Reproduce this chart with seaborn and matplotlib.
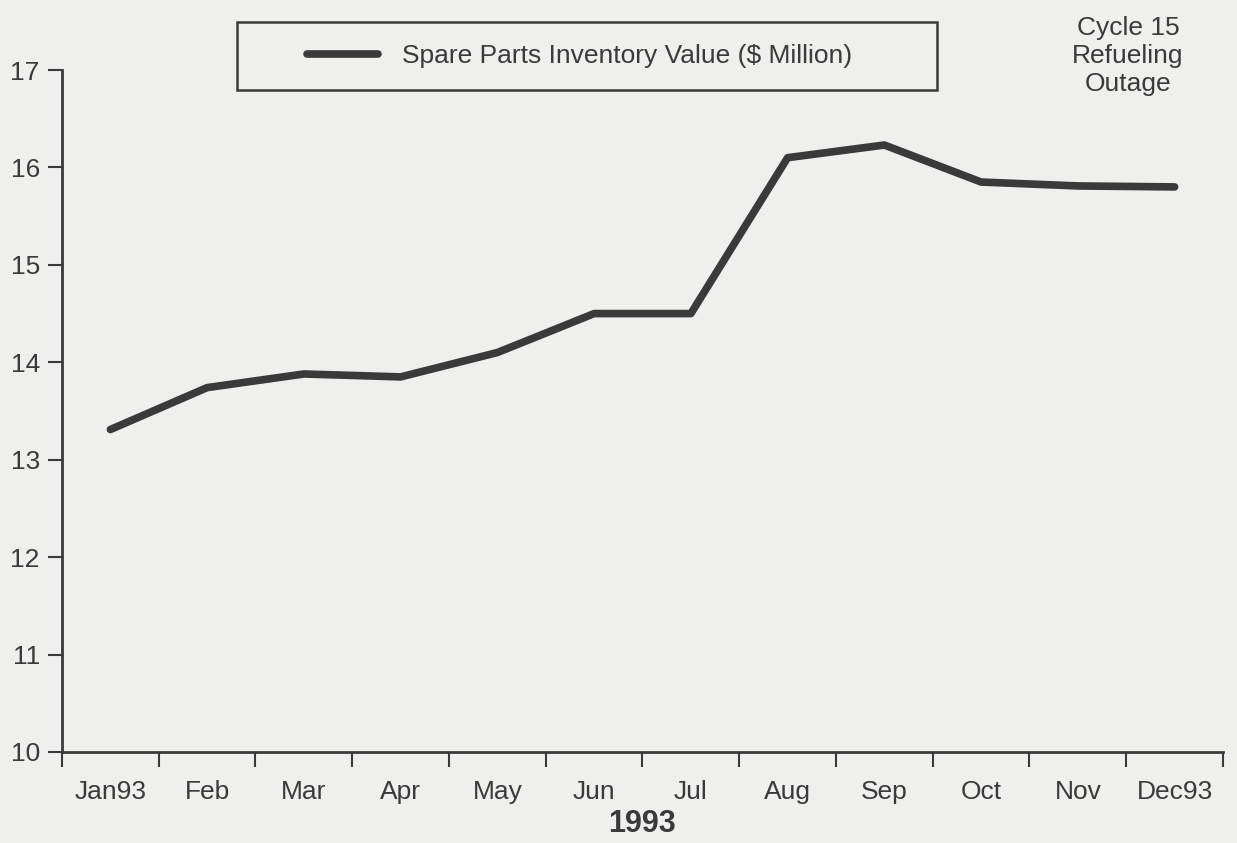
import numpy as np
import pandas as pd
import seaborn as sns
import matplotlib.pyplot as plt
from matplotlib.patches import Rectangle

months = ['Jan93', 'Feb', 'Mar', 'Apr', 'May', 'Jun',
          'Jul', 'Aug', 'Sep', 'Oct', 'Nov', 'Dec93']
inventory = [13.31, 13.74, 13.88, 13.85, 14.10, 14.50,
             14.50, 16.10, 16.23, 15.85, 15.81, 15.80]
yticks = [10, 11, 12, 13, 14, 15, 16, 17]

df = pd.DataFrame({'pos': np.arange(len(months)), 'value': inventory})

sns.set_style('ticks')
plt.rcParams['font.family'] = ['Liberation Sans', 'DejaVu Sans']
bg = '#efefed'
ink = '#3a3a3a'

fig = plt.figure(figsize=(12.37, 8.43), dpi=100, facecolor=bg)
ax = fig.add_axes([62 / 1237, 1 - 752 / 843, (1223 - 62) / 1237, (752 - 70) / 843])
ax.set_facecolor(bg)

sns.lineplot(data=df, x='pos', y='value', ax=ax, color=ink, linewidth=5.5,
             label='Spare Parts Inventory Value ($ Million)', legend=False)

ax.set_xlim(-0.5, len(months) - 0.5)
ax.set_ylim(10, 17)

# ticks at month boundaries, labels at month centres
ax.set_xticks(np.arange(len(months) + 1) - 0.5)
ax.set_xticklabels([])
ax.set_xticks(np.arange(len(months)), minor=True)
ax.set_xticklabels(months, minor=True, fontsize=19, color=ink)
ax.tick_params(axis='x', which='major', length=11, width=1.5, color=ink)
ax.tick_params(axis='x', which='minor', length=0, pad=20)

ax.set_yticks(yticks)
ax.set_yticklabels([str(v) for v in yticks], fontsize=19, color=ink)
ax.tick_params(axis='y', length=10, width=1.5, color=ink, pad=6)

for side in ['top', 'right']:
    ax.spines[side].set_visible(False)
for side in ['left', 'bottom']:
    ax.spines[side].set_linewidth(2)
    ax.spines[side].set_color(ink)

ax.set_xlabel('1993', fontsize=22, fontweight='bold', color=ink, labelpad=4)
ax.set_ylabel('')

# legend box
leg = fig.legend(handles=ax.get_lines()[:1], labels=['Spare Parts Inventory Value ($ Million)'],
                 loc='center left', bbox_to_anchor=(307 / 1237, 1 - 56 / 843),
                 frameon=False, fontsize=19, handlelength=2.7, handletextpad=0.9,
                 borderpad=0, borderaxespad=0, labelcolor=ink)
fig.patches.append(Rectangle((237 / 1237, 1 - 90 / 843), 700 / 1237, 68 / 843,
                             transform=fig.transFigure, fill=False,
                             edgecolor=ink, linewidth=1.8))

fig.text(1128 / 1237, 1 - 56 / 843, 'Cycle 15\nRefueling\nOutage',
         ha='center', va='center', fontsize=19, color=ink, linespacing=1.2)

fig.savefig('out.png', dpi=100, facecolor=bg)
